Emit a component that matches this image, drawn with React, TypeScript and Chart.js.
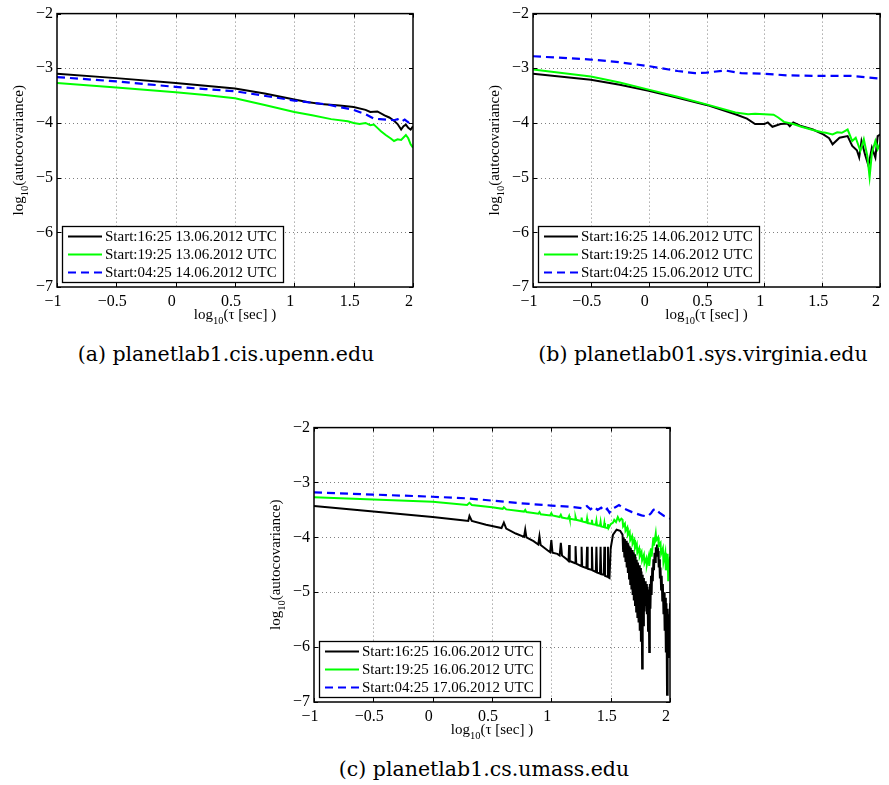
import React, { useEffect, useRef } from 'react';
import { Chart, registerables } from 'chart.js';

Chart.register(...registerables);

// ---------- shared axis data ----------
const X_TICKS = [-1, -0.5, 0, 0.5, 1, 1.5, 2];
const Y_TICKS = [-7, -6, -5, -4, -3, -2];
const X_MIN = -1;
const X_MAX = 2;
const Y_MIN = -7;
const Y_MAX = -2;
const SERIES_COLORS = ['#000000', '#00ff00', '#0000ff'];

// ---------- (a) planetlab1.cis.upenn.edu ----------
const aLabels = ['Start:16:25 13.06.2012 UTC', 'Start:19:25 13.06.2012 UTC', 'Start:04:25 14.06.2012 UTC'];
const aBlackX = [-1, -0.5, 0, 0.25, 0.5, 0.75, 1.0, 1.12, 1.25, 1.38, 1.5, 1.6, 1.64, 1.7, 1.76, 1.8, 1.84, 1.87, 1.9, 1.92, 1.94, 1.96, 1.98, 2.0, 2.01];
const aBlackY = [-3.10, -3.18, -3.27, -3.32, -3.37, -3.46, -3.57, -3.62, -3.66, -3.68, -3.71, -3.76, -3.80, -3.79, -3.86, -3.90, -3.96, -4.02, -4.12, -4.06, -4.03, -4.09, -4.12, -4.06, -4.05];
const aGreenX = [-1, -0.5, 0, 0.25, 0.5, 0.75, 1.0, 1.15, 1.31, 1.45, 1.5, 1.55, 1.6, 1.64, 1.67, 1.7, 1.73, 1.77, 1.81, 1.84, 1.87, 1.9, 1.94, 1.96, 1.98, 2.0, 2.01];
const aGreenY = [-3.27, -3.35, -3.44, -3.49, -3.55, -3.67, -3.80, -3.86, -3.93, -3.97, -4.00, -4.02, -4.00, -4.04, -4.03, -4.09, -4.15, -4.22, -4.28, -4.33, -4.30, -4.31, -4.22, -4.28, -4.39, -4.45, -4.48];
const aBlueX = [-1, -0.5, 0, 0.25, 0.5, 0.71, 1.0, 1.27, 1.5, 1.6, 1.67, 1.72, 1.78, 1.84, 1.87, 1.9, 1.93, 1.96, 1.98, 2.0, 2.01];
const aBlueY = [-3.16, -3.24, -3.34, -3.38, -3.42, -3.49, -3.59, -3.66, -3.76, -3.84, -3.92, -3.93, -3.94, -3.95, -3.93, -3.98, -3.94, -3.99, -3.95, -3.97, -3.96];

// ---------- (b) planetlab01.sys.virginia.edu ----------
const bLabels = ['Start:16:25 14.06.2012 UTC', 'Start:19:25 14.06.2012 UTC', 'Start:04:25 15.06.2012 UTC'];
const bBlackX = [-1, -0.5, -0.25, 0, 0.25, 0.5, 0.75, 0.85, 0.92, 1.0, 1.03, 1.07, 1.14, 1.2, 1.22, 1.25, 1.31, 1.42, 1.51, 1.56, 1.59, 1.65, 1.72, 1.76, 1.8, 1.82, 1.84, 1.87, 1.9, 1.93, 1.96, 1.98, 2.01];
const bBlackY = [-3.10, -3.21, -3.30, -3.41, -3.54, -3.67, -3.84, -3.92, -4.02, -4.02, -3.99, -4.07, -4.02, -4.01, -4.06, -3.99, -4.05, -4.12, -4.21, -4.28, -4.39, -4.27, -4.24, -4.42, -4.50, -4.63, -4.33, -4.57, -4.78, -4.45, -4.63, -4.24, -4.20];
const bGreenX = [-1, -0.5, -0.25, 0, 0.25, 0.5, 0.75, 0.86, 0.92, 1.0, 1.08, 1.12, 1.17, 1.25, 1.32, 1.42, 1.5, 1.53, 1.59, 1.63, 1.67, 1.72, 1.76, 1.79, 1.83, 1.86, 1.89, 1.91, 1.93, 1.96, 1.98, 2.01];
const bGreenY = [-3.02, -3.15, -3.26, -3.39, -3.52, -3.66, -3.81, -3.84, -3.83, -3.84, -3.85, -3.90, -3.98, -4.02, -4.07, -4.13, -4.17, -4.18, -4.21, -4.17, -4.18, -4.12, -4.33, -4.27, -4.51, -4.30, -4.60, -4.99, -4.55, -4.33, -4.48, -4.33];
const bBlueX = [-1, -0.5, -0.25, 0, 0.25, 0.4, 0.5, 0.66, 0.8, 1.0, 1.2, 1.5, 1.75, 2.01];
const bBlueY = [-2.78, -2.84, -2.89, -2.96, -3.05, -3.09, -3.08, -3.04, -3.09, -3.10, -3.13, -3.14, -3.14, -3.19];

// ---------- (c) planetlab1.cs.umass.edu ----------
const cLabels = ['Start:16:25 16.06.2012 UTC', 'Start:19:25 16.06.2012 UTC', 'Start:04:25 17.06.2012 UTC'];
const cBlackX = [
  -1, -0.5, 0, 0.25, 0.3, 0.31, 0.33, 0.45, 0.58, 0.6, 0.62, 0.7, 0.77, 0.78, 0.79, 0.85, 0.89, 0.9, 0.91, 0.97, 0.99, 1.0, 1.01,
  1.05, 1.07, 1.08, 1.09, 1.13, 1.145, 1.15, 1.155, 1.2, 1.204, 1.21, 1.25, 1.255, 1.26, 1.296, 1.301, 1.306, 1.337, 1.342, 1.347,
  1.375, 1.38, 1.385, 1.41, 1.415, 1.42, 1.442, 1.447, 1.452, 1.472, 1.477, 1.482, 1.49, 1.5, 1.52, 1.55, 1.58, 1.6,
  1.605, 1.61, 1.615, 1.62, 1.625, 1.63, 1.635, 1.64, 1.645, 1.65, 1.655, 1.66, 1.665, 1.67, 1.675, 1.68, 1.685, 1.69, 1.695, 1.7,
  1.705, 1.71, 1.715, 1.72, 1.725, 1.73, 1.735, 1.74, 1.745, 1.75, 1.755, 1.76, 1.765, 1.77, 1.775, 1.78, 1.785, 1.79, 1.795, 1.8,
  1.805, 1.81, 1.815, 1.82, 1.825, 1.83, 1.835, 1.84, 1.845, 1.85, 1.855, 1.86, 1.865, 1.87, 1.875, 1.88, 1.885, 1.89, 1.895, 1.9,
  1.905, 1.91, 1.915, 1.92, 1.925, 1.93, 1.935, 1.94, 1.945, 1.95, 1.955, 1.96, 1.965, 1.97, 1.975, 1.98, 1.985, 1.99, 1.995, 2.0,
  2.005, 2.01,
];
const cBlackY = [
  -3.43, -3.53, -3.63, -3.69, -3.70, -3.61, -3.70, -3.77, -3.83, -3.73, -3.84, -3.93, -3.99, -3.86, -4.00, -4.07, -4.13, -3.98, -4.14, -4.24, -4.27, -4.05, -4.28,
  -4.30, -4.33, -4.10, -4.33, -4.40, -4.43, -4.14, -4.43, -4.47, -4.16, -4.48, -4.52, -4.17, -4.53, -4.56, -4.17, -4.57, -4.59, -4.17, -4.60,
  -4.63, -4.17, -4.64, -4.66, -4.17, -4.67, -4.68, -4.17, -4.70, -4.72, -4.17, -4.73, -4.74, -4.20, -3.95, -3.86, -3.88, -3.95,
  -4.25, -4.00, -4.35, -4.03, -4.45, -4.06, -4.55, -4.10, -4.65, -4.13, -4.75, -4.16, -4.85, -4.19, -4.95, -4.23, -5.05, -4.27, -5.15, -4.31,
  -5.25, -4.36, -5.35, -4.41, -5.45, -4.46, -5.55, -4.51, -5.70, -4.56, -5.90, -4.62, -6.39, -4.68, -5.60, -4.74, -5.35, -4.80, -5.25, -4.85,
  -5.40, -4.90, -5.70, -4.95, -6.09, -4.85, -5.30, -4.70, -5.05, -4.55, -4.80, -4.40, -4.60, -4.28, -4.45, -4.18, -4.30, -4.13, -4.28, -4.25,
  -4.55, -4.40, -4.75, -4.55, -4.95, -4.70, -5.15, -4.85, -5.40, -5.00, -5.70, -5.10, -6.10, -5.20, -6.87, -5.30, -5.90, -5.40, -6.20, -5.20,
  -6.30, -5.90,
];
const cGreenX = [
  -1, -0.5, 0, 0.29, 0.31, 0.33, 0.5, 0.59, 0.6, 0.62, 0.77, 0.78, 0.79, 0.89, 0.9, 0.91, 0.99, 1.0, 1.01, 1.07, 1.08, 1.09,
  1.14, 1.15, 1.155, 1.2, 1.204, 1.21, 1.25, 1.255, 1.26, 1.296, 1.301, 1.306, 1.337, 1.342, 1.347, 1.375, 1.38, 1.385,
  1.41, 1.415, 1.42, 1.442, 1.447, 1.452, 1.472, 1.477, 1.482, 1.5, 1.52, 1.53, 1.545, 1.56, 1.575, 1.59,
  1.6, 1.605, 1.62, 1.625, 1.64, 1.645, 1.66, 1.665, 1.68, 1.685, 1.7, 1.705, 1.72, 1.725, 1.74, 1.745, 1.76, 1.765, 1.78, 1.785,
  1.8, 1.805, 1.82, 1.825, 1.84, 1.845, 1.86, 1.865, 1.88, 1.885, 1.9, 1.905, 1.92, 1.925, 1.94, 1.945, 1.96, 1.965, 1.98, 1.985,
  2.0, 2.005, 2.01,
];
const cGreenY = [
  -3.27, -3.31, -3.35, -3.41, -3.37, -3.41, -3.45, -3.48, -3.45, -3.49, -3.53, -3.50, -3.54, -3.57, -3.54, -3.58, -3.60, -3.56, -3.60, -3.63, -3.59, -3.64,
  -3.66, -3.61, -3.66, -3.68, -3.63, -3.68, -3.70, -3.64, -3.71, -3.73, -3.66, -3.74, -3.75, -3.68, -3.76, -3.77, -3.70, -3.78,
  -3.79, -3.72, -3.80, -3.81, -3.74, -3.82, -3.83, -3.76, -3.83, -3.76, -3.73, -3.68, -3.72, -3.63, -3.70, -3.66,
  -3.68, -3.80, -3.75, -3.88, -3.82, -3.96, -3.90, -4.05, -3.98, -4.12, -4.05, -4.20, -4.12, -4.28, -4.20, -4.35, -4.27, -4.42, -4.32, -4.47,
  -4.38, -4.50, -4.35, -4.52, -4.20, -4.35, -4.00, -4.15, -3.93, -4.05, -4.00, -4.15, -4.10, -4.30, -4.20, -4.45, -4.28, -4.60, -4.30, -4.80,
  -4.35, -5.10, -4.40,
];
const cBlueX = [-1, -0.5, 0, 0.3, 0.5, 0.75, 1.0, 1.15, 1.27, 1.3, 1.33, 1.36, 1.39, 1.42, 1.45, 1.47, 1.49, 1.51, 1.54, 1.57, 1.6, 1.64, 1.68, 1.72, 1.76, 1.81, 1.84, 1.86, 1.88, 1.91, 1.95, 1.98, 2.01];
const cBlueY = [-3.18, -3.22, -3.26, -3.29, -3.33, -3.38, -3.42, -3.44, -3.47, -3.43, -3.49, -3.44, -3.50, -3.46, -3.52, -3.48, -3.55, -3.48, -3.45, -3.41, -3.46, -3.50, -3.54, -3.57, -3.60, -3.62, -3.56, -3.50, -3.48, -3.55, -3.61, -3.63, -3.67];

// ---------- layout constants ----------
const PAD_TOP = 12;
const Y_AXIS_W = 57;
const X_AXIS_H = 48;
const SERIF = '"Liberation Serif", "Times New Roman", serif';

Chart.defaults.font.family = SERIF;
Chart.defaults.font.size = 16;
Chart.defaults.color = '#000';

const fmtTick = (value: any) => {
  const v = Number(value);
  return v < 0 ? '\u2212' + String(Math.abs(v)) : String(v);
};

function drawParts(ctx: CanvasRenderingContext2D, parts: [string, boolean][], cx: number, base: number, size: number, subSize: number) {
  const widths = parts.map(([t, sub]) => {
    ctx.font = `${sub ? subSize : size}px ${SERIF}`;
    return ctx.measureText(t).width;
  });
  const total = widths.reduce((s, w) => s + w, 0);
  let x = cx - total / 2;
  parts.forEach(([t, sub], i) => {
    ctx.font = `${sub ? subSize : size}px ${SERIF}`;
    ctx.fillText(t, x, base + (sub ? 5 : 0));
    x += widths[i];
  });
}

function makeDecor(labels: string[]) {
  return {
    id: 'matlabDecor',
    beforeDatasetsDraw(chart: any) {
      const { ctx, chartArea: a } = chart;
      const xs = chart.scales.x;
      const ys = chart.scales.y;
      ctx.save();
      ctx.strokeStyle = '#808080';
      ctx.lineWidth = 1;
      ctx.setLineDash([1, 3]);
      ctx.beginPath();
      X_TICKS.forEach((v) => {
        const p = Math.round(xs.getPixelForValue(v)) + 0.5;
        if (p > a.left + 2 && p < a.right - 2) {
          ctx.moveTo(p, a.top);
          ctx.lineTo(p, a.bottom);
        }
      });
      Y_TICKS.forEach((v) => {
        const p = Math.round(ys.getPixelForValue(v)) + 0.5;
        if (p > a.top + 2 && p < a.bottom - 2) {
          ctx.moveTo(a.left, p);
          ctx.lineTo(a.right, p);
        }
      });
      ctx.stroke();
      ctx.restore();
    },
    afterDatasetsDraw(chart: any) {
      const { ctx, chartArea: a } = chart;
      const xs = chart.scales.x;
      const ys = chart.scales.y;
      ctx.save();
      ctx.setLineDash([]);
      ctx.strokeStyle = '#000';
      ctx.lineWidth = 1;
      ctx.beginPath();
      X_TICKS.forEach((v) => {
        const p = Math.round(xs.getPixelForValue(v)) + 0.5;
        ctx.moveTo(p, a.bottom);
        ctx.lineTo(p, a.bottom - 4);
        ctx.moveTo(p, a.top);
        ctx.lineTo(p, a.top + 4);
      });
      Y_TICKS.forEach((v) => {
        const p = Math.round(ys.getPixelForValue(v)) + 0.5;
        ctx.moveTo(a.left, p);
        ctx.lineTo(a.left + 4, p);
        ctx.moveTo(a.right, p);
        ctx.lineTo(a.right - 4, p);
      });
      ctx.stroke();
      ctx.lineWidth = 1.5;
      ctx.strokeRect(a.left, a.top, a.right - a.left, a.bottom - a.top);
      // legend box
      const bw = 221;
      const bh = 56;
      const bx = Math.round(a.left) + 5;
      const by = Math.round(a.bottom) - 5 - bh;
      ctx.fillStyle = '#fff';
      ctx.fillRect(bx, by, bw, bh);
      ctx.lineWidth = 1.3;
      ctx.strokeStyle = '#000';
      ctx.strokeRect(bx + 0.5, by + 0.5, bw, bh);
      labels.forEach((lab, i) => {
        const ry = by + 10.5 + i * 18;
        ctx.strokeStyle = SERIES_COLORS[i];
        ctx.lineWidth = 2.2;
        ctx.setLineDash(i === 2 ? [8, 5] : []);
        ctx.beginPath();
        ctx.moveTo(bx + 6, ry);
        ctx.lineTo(bx + 40, ry);
        ctx.stroke();
        ctx.setLineDash([]);
        ctx.fillStyle = '#000';
        ctx.font = `15px ${SERIF}`;
        ctx.textAlign = 'left';
        ctx.textBaseline = 'middle';
        ctx.fillText(lab, bx + 43, ry + 1);
      });
      ctx.restore();
    },
    afterDraw(chart: any) {
      const { ctx, chartArea: a } = chart;
      ctx.save();
      ctx.fillStyle = '#000';
      ctx.textAlign = 'left';
      ctx.textBaseline = 'alphabetic';
      drawParts(ctx, [['log', false], ['10', true], ['(\u03c4 [sec] )', false]], (a.left + a.right) / 2, a.bottom + 32, 15, 10.5);
      ctx.translate(a.left - 34, (a.top + a.bottom) / 2);
      ctx.rotate(-Math.PI / 2);
      drawParts(ctx, [['log', false], ['10', true], ['(autocovariance)', false]], 0, 0, 15, 10.5);
      ctx.restore();
    },
  };
}

type PanelProps = {
  left: number;
  top: number;
  plotW: number;
  plotH: number;
  padRight: number;
  xs: number[][];
  ys: number[][];
  labels: string[];
};

function Panel({ left, top, plotW, plotH, padRight, xs, ys, labels }: PanelProps) {
  const ref = useRef<HTMLCanvasElement | null>(null);
  const W = Y_AXIS_W + plotW + padRight;
  const H = PAD_TOP + plotH + X_AXIS_H;
  useEffect(() => {
    if (!ref.current) return;
    const tickFont = { family: SERIF, size: 16 };
    const chart = new Chart(ref.current, {
      type: 'line',
      data: {
        datasets: labels.map((label, i) => ({
          label,
          data: xs[i].map((x, j) => ({ x, y: ys[i][j] })),
          borderColor: SERIES_COLORS[i],
          backgroundColor: SERIES_COLORS[i],
          borderWidth: i === 2 ? 2.2 : 2,
          borderDash: i === 2 ? [8, 5] : [],
          pointRadius: 0,
          tension: 0,
          fill: false,
          order: 3 - i,
        })),
      },
      options: {
        responsive: false,
        animation: false,
        devicePixelRatio: 1,
        events: [],
        layout: { padding: { top: PAD_TOP, right: padRight, left: 0, bottom: 0 } },
        plugins: { legend: { display: false }, tooltip: { enabled: false } },
        scales: {
          x: {
            type: 'linear',
            min: X_MIN,
            max: X_MAX,
            afterFit: (s: any) => {
              s.height = X_AXIS_H;
            },
            afterBuildTicks: (s: any) => {
              s.ticks = X_TICKS.map((v) => ({ value: v }));
            },
            grid: { display: false, drawTicks: false },
            border: { display: false },
            ticks: { font: tickFont, color: '#000', padding: 5, labelOffset: -4, maxRotation: 0, autoSkip: false, callback: fmtTick },
          },
          y: {
            type: 'linear',
            min: Y_MIN,
            max: Y_MAX,
            afterFit: (s: any) => {
              s.width = Y_AXIS_W;
            },
            afterBuildTicks: (s: any) => {
              s.ticks = Y_TICKS.map((v) => ({ value: v }));
            },
            grid: { display: false, drawTicks: false },
            border: { display: false },
            ticks: { font: tickFont, color: '#000', padding: 4, autoSkip: false, callback: fmtTick },
          },
        },
      } as any,
      plugins: [makeDecor(labels)],
    });
    return () => chart.destroy();
  }, []);
  return <canvas ref={ref} width={W} height={H} style={{ position: 'absolute', left, top, width: W, height: H }} />;
}

const captionStyle = (cx: number, cy: number): React.CSSProperties => ({
  position: 'absolute',
  left: cx - 250,
  width: 500,
  top: cy - 12,
  height: 24,
  lineHeight: '24px',
  textAlign: 'center',
  fontFamily: '"DejaVu Serif", serif',
  fontSize: 20.5,
  color: '#000',
  whiteSpace: 'nowrap',
});

export default function App() {
  return (
    <div style={{ position: 'absolute', left: 0, top: 0, width: 889, height: 785, background: '#fff', overflow: 'hidden' }}>
      <Panel left={0} top={0} plotW={356} plotH={275} padRight={10} xs={[aBlackX, aGreenX, aBlueX]} ys={[aBlackY, aGreenY, aBlueY]} labels={aLabels} />
      <Panel left={476} top={0} plotW={355} plotH={275} padRight={1} xs={[bBlackX, bGreenX, bBlueX]} ys={[bBlackY, bGreenY, bBlueY]} labels={bLabels} />
      <Panel left={257} top={414} plotW={356} plotH={276} padRight={10} xs={[cBlackX, cGreenX, cBlueX]} ys={[cBlackY, cGreenY, cBlueY]} labels={cLabels} />
      <div style={captionStyle(226, 354)}>(a) planetlab1.cis.upenn.edu</div>
      <div style={captionStyle(703, 354)}>(b) planetlab01.sys.virginia.edu</div>
      <div style={captionStyle(484, 769)}>(c) planetlab1.cs.umass.edu</div>
    </div>
  );
}
